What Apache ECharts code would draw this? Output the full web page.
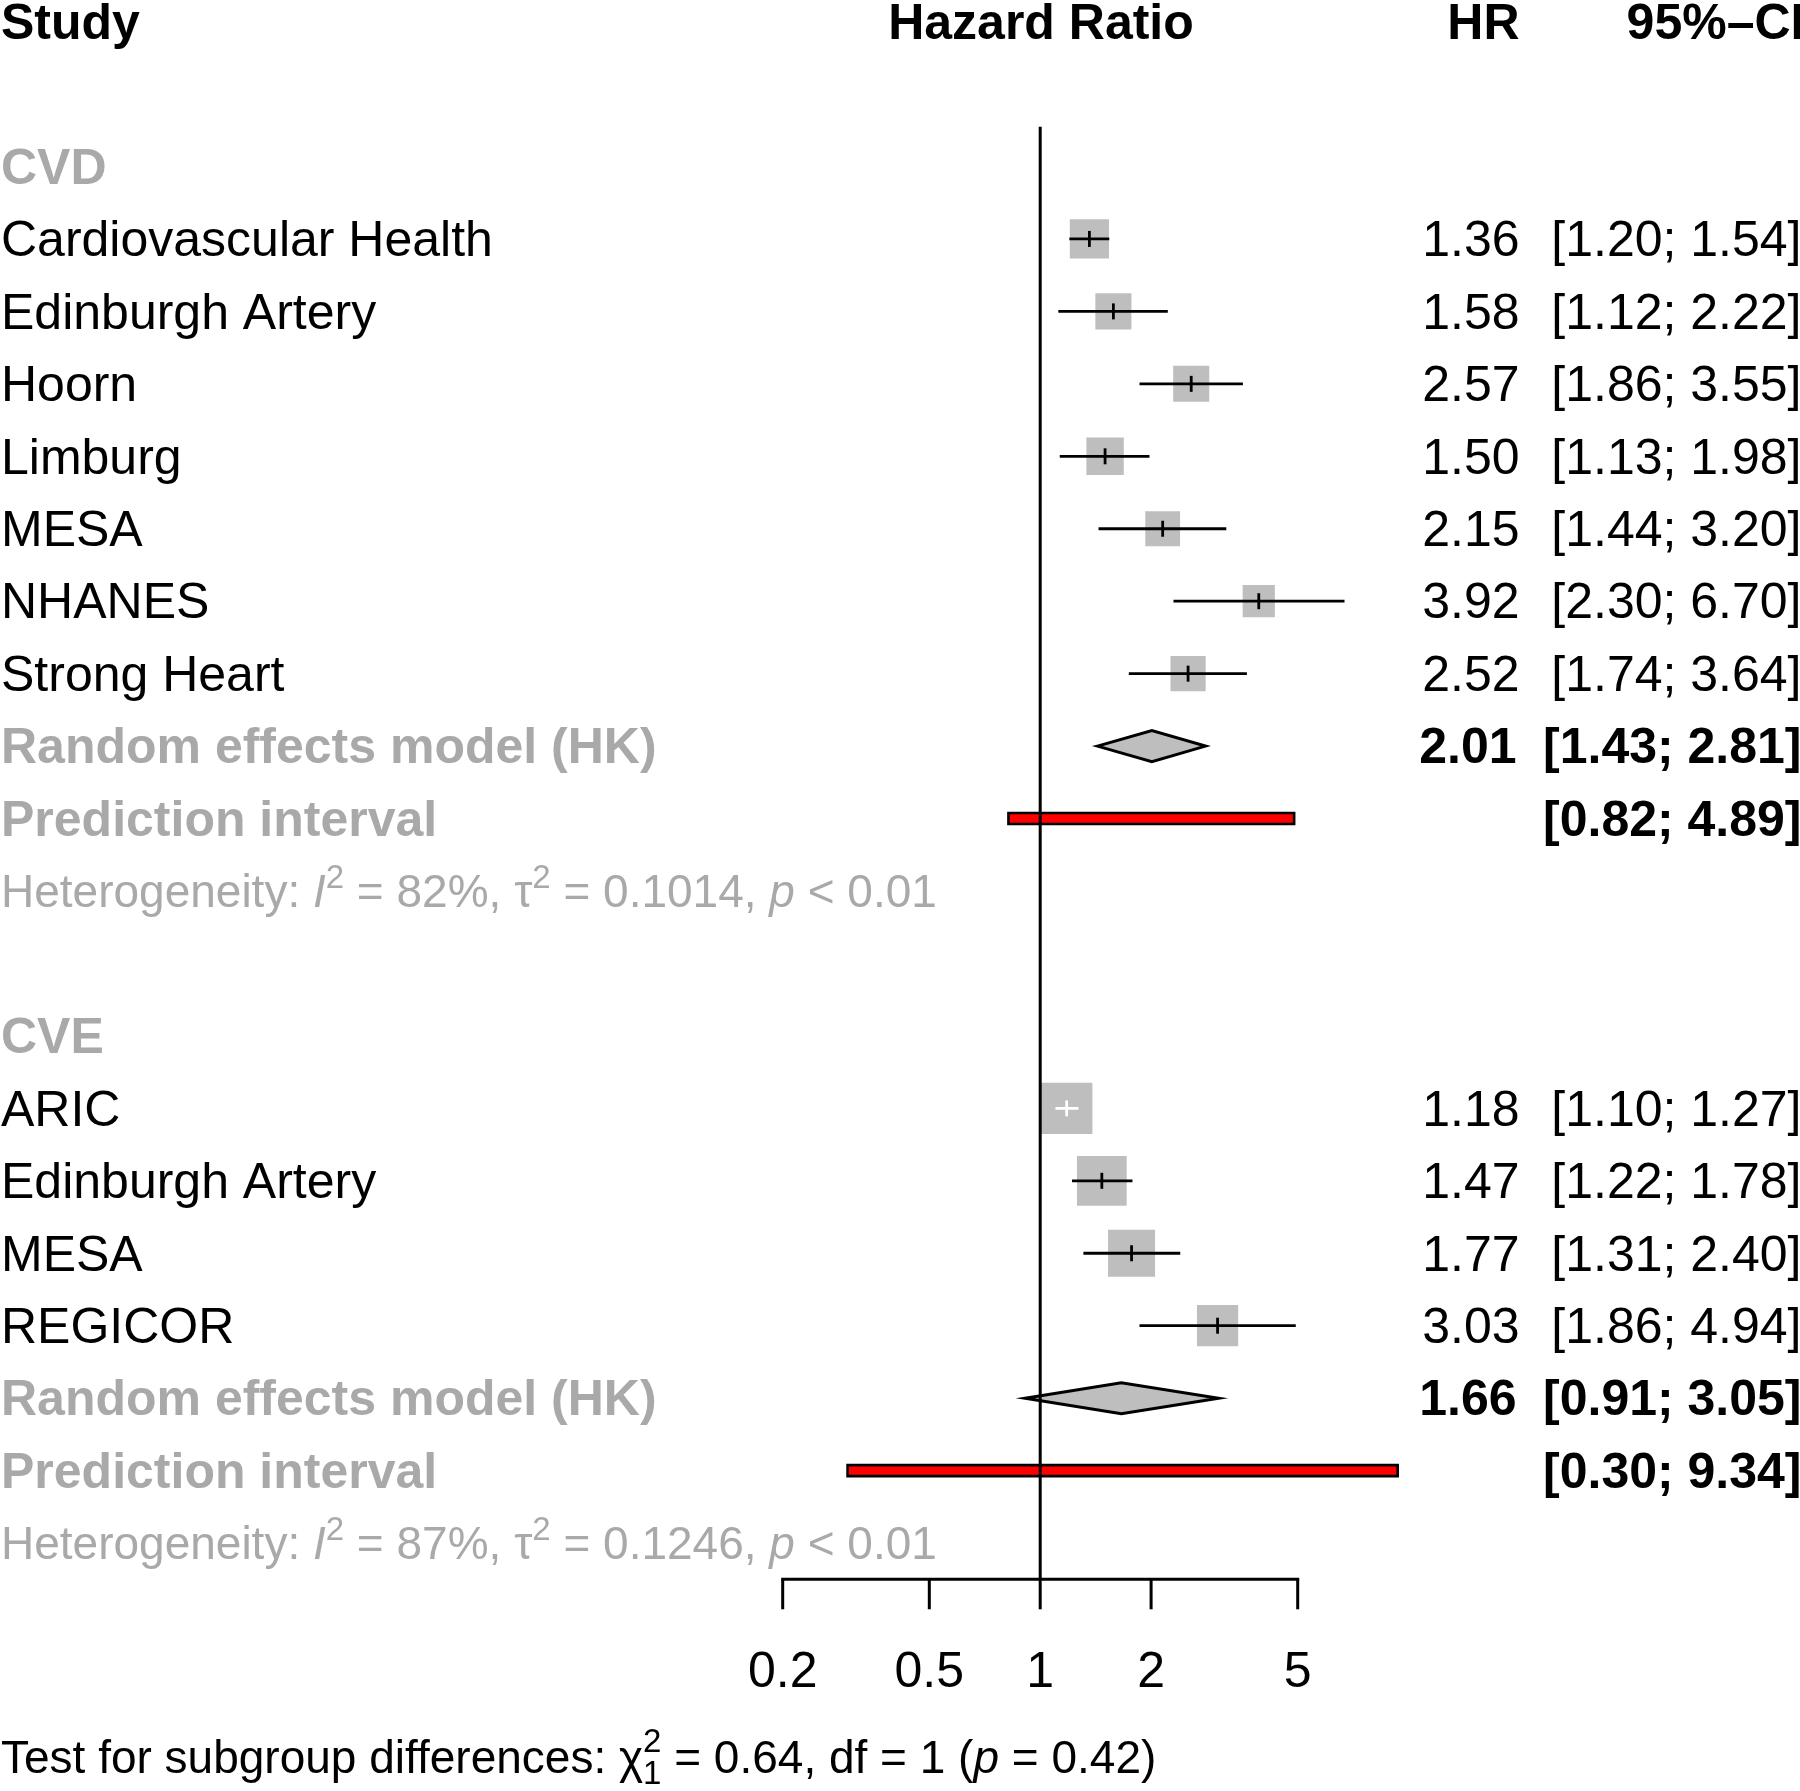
<!DOCTYPE html>
<html>
<head>
<meta charset="utf-8">
<script src="https://cdn.jsdelivr.net/npm/echarts@6/dist/echarts.min.js"></script>
<style>
html,body{margin:0;padding:0;background:#fff;}
#chart{width:1800px;height:1791px;}
</style>
</head>
<body>
<div id="chart"></div>
<script>
// ---------- data ----------
const groupNames = ['CVD', 'CVE'];
const studiesCVD = ['Cardiovascular Health', 'Edinburgh Artery', 'Hoorn', 'Limburg', 'MESA', 'NHANES', 'Strong Heart'];
const hrCVD = [1.36, 1.58, 2.57, 1.50, 2.15, 3.92, 2.52];
const lowerCVD = [1.20, 1.12, 1.86, 1.13, 1.44, 2.30, 1.74];
const upperCVD = [1.54, 2.22, 3.55, 1.98, 3.20, 6.70, 3.64];
const weightCVD = [17.0, 14.4, 14.4, 15.5, 13.4, 11.5, 13.7];
const studiesCVE = ['ARIC', 'Edinburgh Artery', 'MESA', 'REGICOR'];
const hrCVE = [1.18, 1.47, 1.77, 3.03];
const lowerCVE = [1.10, 1.22, 1.31, 1.86];
const upperCVE = [1.27, 1.78, 2.40, 4.94];
const weightCVE = [29.3, 27.4, 24.5, 18.8];
const reHR = [2.01, 1.66];
const reLower = [1.43, 0.91];
const reUpper = [2.81, 3.05];
const piLower = [0.82, 0.30];
const piUpper = [4.89, 9.34];
const hetI2 = ['82%', '87%'];
const hetTau2 = ['0.1014', '0.1246'];
const hetP = ['< 0.01', '< 0.01'];
const xTicks = [0.2, 0.5, 1, 2, 5];
const xTickLabels = ['0.2', '0.5', '1', '2', '5'];
const testChi2 = '0.64';
const testDf = '1';
const testP = '0.42';

// ---------- layout constants ----------
const FF = '"Liberation Sans", Arial, Helvetica, sans-serif';
const FS = 50;
const FS_MATH = 46;
const SUP = 33;
const GREY = '#a9a9a9';
const SQ_K = 9.5;
const X_HR = 1519.5;
const X_CI = 1801.5;
const X_HEAD_MID = 1041;
const TEXT_DY = 3.5;

const groups = [
  {names: studiesCVD, hr: hrCVD, lo: lowerCVD, hi: upperCVD, w: weightCVD},
  {names: studiesCVE, hr: hrCVE, lo: lowerCVE, hi: upperCVE, w: weightCVE}
];

// build rows
const rows = [];
rows.push({r: -2, kind: 'header'});
const studyData = [], reData = [], piData = [];
let rr = 0;
groups.forEach((g, gi) => {
  rows.push({r: rr, kind: 'group', label: groupNames[gi]}); rr++;
  g.names.forEach((n, i) => {
    rows.push({r: rr, kind: 'study', label: n, hr: g.hr[i], lo: g.lo[i], hi: g.hi[i]});
    studyData.push([g.hr[i], rr, g.lo[i], g.hi[i], g.w[i]]);
    rr++;
  });
  rows.push({r: rr, kind: 're', hr: reHR[gi], lo: reLower[gi], hi: reUpper[gi]});
  reData.push([reHR[gi], rr, reLower[gi], reUpper[gi]]);
  rr++;
  rows.push({r: rr, kind: 'pi', lo: piLower[gi], hi: piUpper[gi]});
  piData.push([piLower[gi], rr, piUpper[gi]]);
  rr++;
  rows.push({r: rr, kind: 'het', gi: gi});
  rr++;
  rr++; // blank row between groups
});
const lastRow = rr - 2;
const axisRow = lastRow + 0.5;
const tickLabelRow = lastRow + 1.75;
const testRow = lastRow + 2.95;
rows.push({r: testRow, kind: 'test'});

// text measuring
const mctx = document.createElement('canvas').getContext('2d');
function tw(t, size, wt, st) {
  mctx.font = (st || 'normal') + ' ' + (wt || 'normal') + ' ' + size + 'px ' + FF;
  return mctx.measureText(t).width;
}
function txt(t, x, y, o) {
  o = o || {};
  return {
    type: 'text', x: x, y: y + TEXT_DY,
    style: {
      text: t, fontSize: o.size || FS, fontFamily: FF,
      fontWeight: o.bold ? 'bold' : 'normal', fontStyle: o.italic ? 'italic' : 'normal',
      fill: o.color || '#000', align: o.align || 'left', verticalAlign: 'middle'
    }
  };
}
function runs(list, x0, y, color, base) {
  let x = x0; const els = [];
  list.forEach(rn => {
    const size = rn.size || base;
    els.push(txt(rn.t, x, y + (rn.dy || 0), {size: size, italic: rn.italic, bold: rn.bold, color: color}));
    if (!rn.noAdvance) x += tw(rn.t, size, rn.bold ? 'bold' : 'normal', rn.italic ? 'italic' : 'normal');
  });
  return els;
}
const f2 = v => v.toFixed(2);

const chart = echarts.init(document.getElementById('chart'), null, {renderer: 'canvas'});

const option = {
  animation: false,
  backgroundColor: '#fff',
  grid: {left: 782.7, right: 502.3, top: 0, bottom: 0},
  xAxis: {type: 'log', logBase: 10, min: 0.2, max: 5, show: false},
  yAxis: {type: 'value', inverse: true, min: -2.298, max: 22.422, show: false},
  series: [
    // studies: squares + CI
    {
      type: 'custom', clip: false, z: 2, data: studyData,
      renderItem: function (params, api) {
        const c = api.coord([api.value(0), api.value(1)]);
        const cl = api.coord([api.value(2), api.value(1)]);
        const ch = api.coord([api.value(3), api.value(1)]);
        const s = SQ_K * Math.sqrt(api.value(4));
        const inside = cl[0] > c[0] - s / 2 && ch[0] < c[0] + s / 2;
        const col = inside ? '#ffffff' : '#000000';
        return {type: 'group', children: [
          {type: 'rect', shape: {x: c[0] - s / 2, y: c[1] - s / 2, width: s, height: s}, style: {fill: '#bebebe'}},
          {type: 'line', shape: {x1: cl[0], y1: c[1], x2: ch[0], y2: c[1]}, style: {stroke: col, lineWidth: 2.8}},
          {type: 'line', shape: {x1: c[0], y1: c[1] - 8, x2: c[0], y2: c[1] + 8}, style: {stroke: col, lineWidth: 2.8}}
        ]};
      }
    },
    // random effects diamonds
    {
      type: 'custom', clip: false, z: 2, data: reData,
      renderItem: function (params, api) {
        const c = api.coord([api.value(0), api.value(1)]);
        const cl = api.coord([api.value(2), api.value(1)]);
        const ch = api.coord([api.value(3), api.value(1)]);
        const h = 15.5;
        return {type: 'polygon', shape: {points: [[cl[0], c[1]], [c[0], c[1] - h], [ch[0], c[1]], [c[0], c[1] + h]]},
          style: {fill: '#bebebe', stroke: '#000', lineWidth: 3, lineJoin: 'miter'}};
      }
    },
    // prediction intervals
    {
      type: 'custom', clip: false, z: 2, data: piData,
      renderItem: function (params, api) {
        const a = api.coord([api.value(0), api.value(1)]);
        const b = api.coord([api.value(2), api.value(1)]);
        const h = 11;
        return {type: 'rect', shape: {x: a[0], y: a[1] - h / 2, width: b[0] - a[0], height: h},
          style: {fill: '#ff0000', stroke: '#000', lineWidth: 2.6}};
      }
    },
    // reference line at 1
    {
      type: 'custom', clip: false, z: 4, data: [[1, -0.55, axisRow]],
      renderItem: function (params, api) {
        const a = api.coord([api.value(0), api.value(1)]);
        const b = api.coord([api.value(0), api.value(2)]);
        return {type: 'line', shape: {x1: a[0], y1: a[1], x2: b[0], y2: b[1]}, style: {stroke: '#000', lineWidth: 3}};
      }
    },
    // x axis line
    {
      type: 'custom', clip: false, z: 4, data: [[xTicks[0], axisRow, xTicks[xTicks.length - 1]]],
      renderItem: function (params, api) {
        const a = api.coord([api.value(0), api.value(1)]);
        const b = api.coord([api.value(2), api.value(1)]);
        return {type: 'line', shape: {x1: a[0] - 1.5, y1: a[1], x2: b[0] + 1.5, y2: b[1]}, style: {stroke: '#000', lineWidth: 3}};
      }
    },
    // ticks + labels
    {
      type: 'custom', clip: false, z: 4, data: xTicks.map((v, i) => [v, axisRow, i]),
      renderItem: function (params, api) {
        const a = api.coord([api.value(0), api.value(1)]);
        const ly = api.coord([api.value(0), tickLabelRow])[1];
        return {type: 'group', children: [
          {type: 'line', shape: {x1: a[0], y1: a[1], x2: a[0], y2: a[1] + 30}, style: {stroke: '#000', lineWidth: 3}},
          txt(xTickLabels[api.value(2)], a[0], ly, {align: 'center'})
        ]};
      }
    },
    // text columns
    {
      type: 'custom', clip: false, z: 5, data: rows.map((row, i) => [1, row.r, i]),
      renderItem: function (params, api) {
        const row = rows[api.value(2)];
        const y = api.coord([1, row.r])[1];
        let els = [];
        if (row.kind === 'header') {
          els = [txt('Study', 1, y, {bold: true}), txt('Hazard Ratio', X_HEAD_MID, y, {bold: true, align: 'center'}),
            txt('HR', X_HR, y, {bold: true, align: 'right'}), txt('95%\u2013CI', X_CI + 3, y, {bold: true, align: 'right'})];
        } else if (row.kind === 'group') {
          els = [txt(row.label, 1, y, {bold: true, color: GREY})];
        } else if (row.kind === 'study') {
          els = [txt(row.label, 1, y), txt(f2(row.hr), X_HR, y, {align: 'right'}),
            txt('[' + f2(row.lo) + '; ' + f2(row.hi) + ']', X_CI, y, {align: 'right'})];
        } else if (row.kind === 're') {
          els = [txt('Random effects model (HK)', 1, y, {bold: true, color: GREY}),
            txt(f2(row.hr), X_HR - 3, y, {bold: true, align: 'right'}),
            txt('[' + f2(row.lo) + '; ' + f2(row.hi) + ']', X_CI, y, {bold: true, align: 'right'})];
        } else if (row.kind === 'pi') {
          els = [txt('Prediction interval', 1, y, {bold: true, color: GREY}),
            txt('[' + f2(row.lo) + '; ' + f2(row.hi) + ']', X_CI, y, {bold: true, align: 'right'})];
        } else if (row.kind === 'het') {
          els = runs([
            {t: 'Heterogeneity: '}, {t: 'I', italic: true}, {t: '2', size: SUP, dy: -16},
            {t: ' = ' + hetI2[row.gi] + ', '}, {t: '\u03c4'}, {t: '2', size: SUP, dy: -16},
            {t: ' = ' + hetTau2[row.gi] + ', '}, {t: 'p', italic: true}, {t: ' ' + hetP[row.gi]}
          ], 1, y, GREY, FS_MATH);
        } else if (row.kind === 'test') {
          els = runs([
            {t: 'Test for subgroup differences: '}, {t: '\u03c7'},
            {t: '2', size: SUP, dy: -17, noAdvance: true}, {t: '1', size: SUP, dy: 15},
            {t: ' = ' + testChi2 + ', df = ' + testDf + ' ('}, {t: 'p', italic: true}, {t: ' = ' + testP + ')'}
          ], 1, y, '#000', FS_MATH);
        }
        return {type: 'group', children: els};
      }
    }
  ]
};
chart.setOption(option);
</script>
</body>
</html>
